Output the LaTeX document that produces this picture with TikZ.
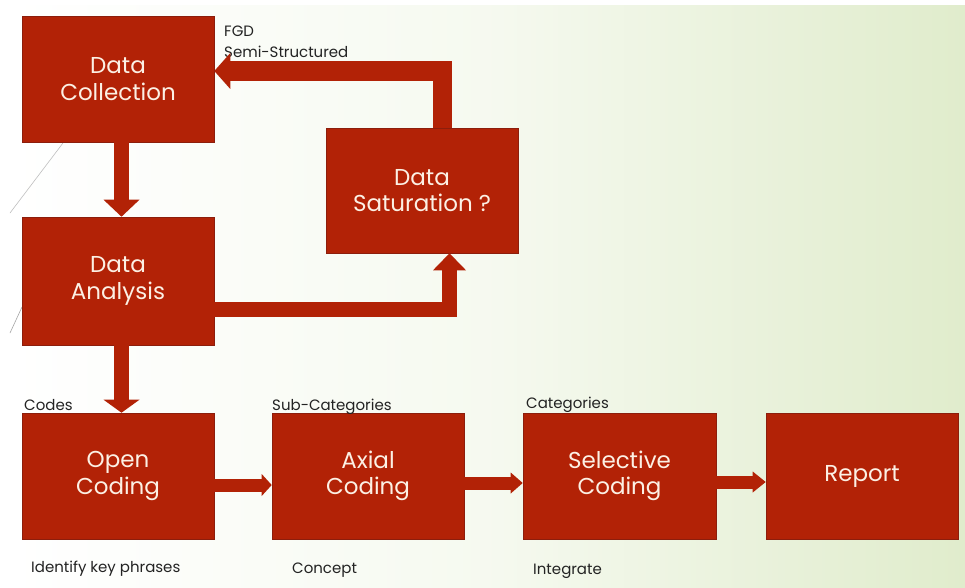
\documentclass[tikz,border=0pt]{standalone}
\usepackage{fontspec}
\setmainfont{Poppins}
\usetikzlibrary{arrows.meta,calc}
\definecolor{boxred}{RGB}{178,34,6}
\definecolor{boxedge}{RGB}{140,30,12}
\definecolor{boxtext}{RGB}{252,240,228}
\definecolor{bggreen}{RGB}{224,236,204}
\definecolor{lbltext}{RGB}{35,35,35}
\begin{document}
\begin{tikzpicture}[x=1pt,y=-1pt,
  box/.style={fill=boxred, draw=boxedge, line width=0.6pt, minimum width=192pt,
    minimum height=126pt, inner sep=0pt, align=center, text=boxtext,
    font=\fontsize{23}{26.5}\selectfont},
  lbl/.style={anchor=base west, inner sep=0pt, text=lbltext,
    font=\fontsize{15}{18}\selectfont},
  blk/.style={draw=boxred, line join=miter, line cap=butt}
]
\useasboundingbox (0,0) rectangle (965,588);
\fill[white] (0,0) rectangle (965,588);
\shade[left color=white, right color=bggreen, middle color=white!70!bggreen] (10,6) rectangle (965,588);
\draw[black!25, line width=0.6pt] (63,143) -- (10,213);
\draw[black!35, line width=0.6pt] (22,307) -- (10,333);

% boxes
\node[box] (dc) at (118,79) {Data\\Collection};
\node[box, minimum height=128pt] (da) at (118,281) {Data\\Analysis};
\node[box, minimum height=125pt] (ds) at (422,190.5) {Data\\Saturation ?};
\node[box] (oc) at (118,476) {Open\\Coding};
\node[box] (ac) at (368,476) {Axial\\Coding};
\node[box, minimum width=193pt] (sc) at (619.5,476) {Selective\\Coding};
\node[box] (rp) at (862,476) {Report};

% labels
\node[lbl] (l1) at (224,37) {FGD};
\node[lbl] (l2) at (224,57.5) {Semi-Structured};
\node[lbl] (l3) at (24,410) {Codes};
\node[lbl] (l4) at (272,410) {Sub-Categories};
\node[lbl] (l5) at (526,408) {Categories};
\node[lbl] (l6) at (31,572) {Identify key phrases};
\node[lbl] (l7) at (292,573) {Concept};
\node[lbl] (l8) at (533,574) {Integrate};

% block arrows
\draw[blk, line width=15pt, -{Triangle[width=36pt,length=17pt,line width=0pt]}]
  ($(dc.south)+(3.5,0)$) -- ($(da.north)+(3.5,0)$);
\draw[blk, line width=15pt, -{Triangle[width=36pt,length=13pt,line width=0pt]}]
  ($(da.south)+(3.5,0)$) -- ($(oc.north)+(3.5,0)$);
\draw[blk, line width=19.5pt, -{Triangle[width=36pt,length=16pt,line width=0pt]}]
  ($(ds.north)+(20.5,0)$) |- ($(dc.east)+(0,-8)$);
\draw[blk, line width=15pt, -{Triangle[width=33pt,length=17pt,line width=0pt]}]
  ($(da.east)+(0,28.5)$) -| ($(ds.south)+(27.5,0)$);
\draw[blk, line width=13pt, -{Triangle[width=22pt,length=10pt,line width=0pt]}]
  ($(oc.east)+(0,9)$) -- ($(ac.west)+(0,9)$);
\draw[blk, line width=13pt, -{Triangle[width=21pt,length=12pt,line width=0pt]}]
  ($(ac.east)+(0,7)$) -- ($(sc.west)+(0,7)$);
\draw[blk, line width=13pt, -{Triangle[width=21pt,length=13pt,line width=0pt]}]
  ($(sc.east)+(0,6)$) -- ($(rp.west)+(0,6)$);
\end{tikzpicture}
\end{document}
